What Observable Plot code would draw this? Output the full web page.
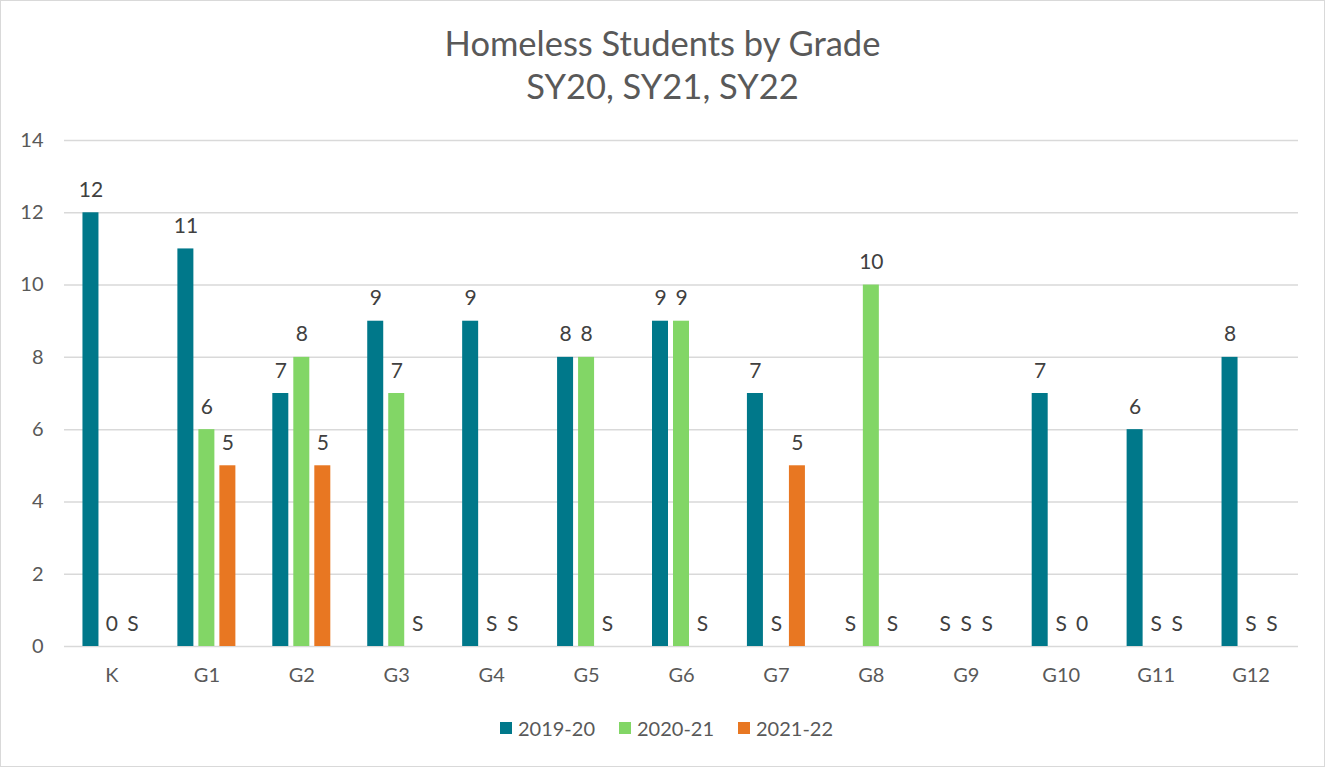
<!DOCTYPE html>
<html>
<head>
<meta charset="utf-8">
<script src="https://cdn.jsdelivr.net/npm/d3@7"></script>
<script src="https://cdn.jsdelivr.net/npm/@observablehq/plot@0.6"></script>
<style>
  html, body { margin: 0; padding: 0; background: #fff; }
  #wrap { position: relative; width: 1325px; height: 767px; overflow: hidden; font-family: Lato, "Open Sans", sans-serif; color: #595959; }
  #frame { position: absolute; left: 0; top: 0; width: 1323px; height: 765px; border: 1px solid #d9d9d9; pointer-events: none; }
  #title { position: absolute; left: 0; top: 21px; width: 1325px; text-align: center; font-size: 34.5px; line-height: 43px; color: #595959; }
  #chart { position: absolute; left: 0; top: 120px; }
  #legend { position: absolute; left: 4px; top: 716px; width: 1325px; display: flex; justify-content: center; gap: 24px; font-size: 20px; color: #595959; }
  .item { display: flex; align-items: center; gap: 6px; }
  .sw { width: 12px; height: 12px; display: inline-block; }
</style>
</head>
<body>
<div id="wrap">
  <div id="title">Homeless Students by Grade<br>SY20, SY21, SY22</div>
  <div id="chart"></div>
  <div id="legend"></div>
  <div id="frame"></div>
</div>
<script>
const grades = ["K","G1","G2","G3","G4","G5","G6","G7","G8","G9","G10","G11","G12"];
const seriesNames = ["2019-20","2020-21","2021-22"];
const seriesColors = ["#00788a","#82d666","#e87722"];
// null = suppressed ("S")
const sy20 = [12, 11, 7, 9, 9, 8, 9, 7, null, null, 7, 6, 8];
const sy21 = [0, 6, 8, 7, null, 8, 9, null, 10, null, null, null, null];
const sy22 = [null, 5, 5, null, null, null, null, 5, null, null, 0, null, null];
const yTicks = [0, 2, 4, 6, 8, 10, 12, 14];

const allSeries = [sy20, sy21, sy22];
const rows = [];
allSeries.forEach((vals, si) => {
  vals.forEach((v, gi) => {
    rows.push({grade: grades[gi], series: seriesNames[si], si, value: v == null ? 0 : v, label: v == null ? "S" : String(v)});
  });
});

const W = 1325, ML = 64, MR = 27;
const band = (W - ML - MR) / grades.length;
const barW = 16, step = 21;
const inset = (band - barW) / 2;

const marks = [
  Plot.gridY(yTicks, {stroke: "#d9d9d9", strokeOpacity: 1, strokeWidth: 1.5})
];
seriesNames.forEach((name, si) => {
  const d = rows.filter(r => r.si === si);
  const dx = (si - 1) * step;
  marks.push(Plot.barY(d.filter(r => r.label !== "S" && r.value > 0), {
    x: "grade", y: "value", fill: seriesColors[si], insetLeft: inset, insetRight: inset, dx
  }));
  marks.push(Plot.text(d, {
    x: "grade", y: "value", text: "label", dx, dy: -16, lineAnchor: "bottom",
    fill: "#404040", fontSize: 21
  }));
});

const chart = Plot.plot({
  width: W,
  height: 576,
  marginLeft: ML,
  marginRight: MR,
  marginTop: 20,
  marginBottom: 50,
  style: {fontFamily: "Lato, 'Open Sans', sans-serif", fontSize: "20px", color: "#595959", background: "transparent"},
  x: {domain: grades, padding: 0, round: false, label: null, tickSize: 0, tickPadding: 21},
  y: {domain: [0, 14], ticks: yTicks, label: null, tickSize: 0, tickPadding: 21, tickFormat: d3.format("d")},
  marks
});
document.getElementById("chart").appendChild(chart);

const legend = document.getElementById("legend");
seriesNames.forEach((n, i) => {
  const it = document.createElement("div");
  it.className = "item";
  const sw = document.createElement("span");
  sw.className = "sw";
  sw.style.background = seriesColors[i];
  const t = document.createElement("span");
  t.textContent = n;
  it.appendChild(sw); it.appendChild(t);
  legend.appendChild(it);
});
</script>
</body>
</html>
